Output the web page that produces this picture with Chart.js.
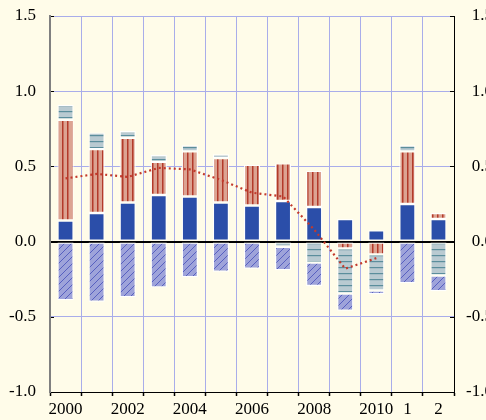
<!DOCTYPE html>
<html lang="en">
<head>
<meta charset="UTF-8">
<script src="https://cdn.jsdelivr.net/npm/chart.js@4.4.0/dist/chart.umd.min.js"></script>
<title>Chart</title>
<style>
  html, body { margin: 0; padding: 0; background: #fffce9; overflow: hidden; }
  #wrap { width: 486px; height: 420px; overflow: hidden; }
</style>
</head>
<body>
<div id="wrap"><canvas id="chart1" width="493" height="420"></canvas></div>
<script>
// data
var years = ['2000', '2001', '2002', '2003', '2004', '2005', '2006', '2007', '2008', '2009', '2010', '2011', '2012'];
var yearLabels = ['2000', '', '2002', '', '2004', '', '2006', '', '2008', '', '2010', '1', '2'];
var blueSeries = [0.14, 0.19, 0.26, 0.31, 0.30, 0.26, 0.24, 0.27, 0.23, 0.15, 0.075, 0.25, 0.15];
var redSeries = [0.67, 0.425, 0.43, 0.22, 0.30, 0.295, 0.27, 0.25, 0.24, -0.045, -0.085, 0.35, 0.04];
var greySeries = [0.10, 0.11, 0.045, 0.045, 0.04, 0.025, 0, -0.034, -0.14, -0.30, -0.24, 0.04, -0.225];
var hatchSeries = [-0.39, -0.40, -0.37, -0.305, -0.237, -0.20, -0.18, -0.156, -0.155, -0.115, -0.025, -0.277, -0.105];
var lineSeries = [0.42, 0.45, 0.43, 0.49, 0.48, 0.41, 0.325, 0.30, 0.08, -0.18, -0.11, null, null];
var yTicks = [-1.0, -0.5, 0.0, 0.5, 1.0, 1.5];

var gridColor = '#a9adea';
var serif = 'Liberation Serif';

function makePattern(bg, fg, size, draw) {
    var c = document.createElement('canvas');
    c.width = size; c.height = size;
    var g = c.getContext('2d');
    g.fillStyle = bg;
    g.fillRect(0, 0, size, size);
    g.strokeStyle = fg;
    g.fillStyle = fg;
    draw(g, size);
    return g.createPattern(c, 'repeat');
}

var ctx = document.getElementById('chart1').getContext('2d');

var redPattern = makePattern('#dca392', '#b33a2a', 5, function (g, s) {
    g.fillRect(2, 0, 1.5, s);
});
var greyPattern = makePattern('#b9cad1', '#5b8e9c', 6, function (g, s) {
    g.fillRect(0, 3, s, 1.2);
});
var hatchPattern = makePattern('#9ea3da', '#4f58bd', 7, function (g, s) {
    g.lineWidth = 0.9;
    g.beginPath();
    g.moveTo(0, s); g.lineTo(s, 0);
    g.moveTo(-1, 1); g.lineTo(1, -1);
    g.moveTo(s - 1, s + 1); g.lineTo(s + 1, s - 1);
    g.stroke();
});

function barSet(label, data, fill) {
    return {
        type: 'bar',
        label: label,
        data: data,
        backgroundColor: fill,
        borderColor: 'rgba(255,255,255,0.95)',
        borderWidth: 1.2,
        borderSkipped: false,
        barPercentage: 0.52,
        categoryPercentage: 1,
        stack: 'bars',
        order: 2
    };
}

var innerTicks = {
    id: 'innerTicks',
    afterDraw: function (chart) {
        var c = chart.ctx, a = chart.chartArea, y = chart.scales.y;
        c.save();
        c.strokeStyle = '#000';
        c.lineWidth = 1;
        yTicks.forEach(function (v) {
            var py = Math.round(y.getPixelForValue(v)) + 0.5;
            c.beginPath();
            c.moveTo(a.left + 1, py); c.lineTo(a.left + 4, py);
            c.moveTo(a.right - 4, py); c.lineTo(a.right, py);
            c.stroke();
        });
        c.restore();
    }
};

function tickText(v) { return Number(v).toFixed(1); }

// keep the tick label padding from pushing the plot area down
function fixY(width) {
    return function (s) {
        s.width = width;
        s.paddingTop = 0;
        s.paddingBottom = 0;
    };
}

var myChart = new Chart(ctx, {
    data: {
        labels: years,
        datasets: [
            barSet('blue', blueSeries, '#2b4ea9'),
            barSet('red', redSeries, redPattern),
            barSet('grey', greySeries, greyPattern),
            barSet('hatch', hatchSeries, hatchPattern),
            {
                type: 'line',
                label: 'line',
                data: lineSeries,
                borderColor: '#c23a2c',
                borderWidth: 2.2,
                borderDash: [2, 3],
                borderCapStyle: 'butt',
                pointRadius: 0,
                fill: false,
                tension: 0,
                stack: 'line',
                order: 0
            }
        ]
    },
    options: {
        responsive: false,
        animation: false,
        layout: { padding: { top: 16, left: 0, right: 0, bottom: 0 } },
        plugins: { legend: { display: false }, tooltip: { enabled: false } },
        scales: {
            x: {
                stacked: true,
                offset: true,
                grid: {
                    offset: true,
                    color: gridColor,
                    lineWidth: 1,
                    drawTicks: true,
                    tickLength: 4,
                    tickColor: '#000',
                    tickWidth: 1.5
                },
                border: { color: '#000', width: 1 },
                ticks: {
                    autoSkip: false,
                    maxRotation: 0,
                    padding: 3,
                    color: '#000',
                    font: { family: serif, size: 17 },
                    callback: function (v, i) { return yearLabels[i]; }
                },
                afterFit: function (s) { s.height = 28; }
            },
            y: {
                stacked: true,
                position: 'left',
                min: -1, max: 1.5,
                afterBuildTicks: function (s) { s.ticks = yTicks.map(function (v) { return { value: v }; }); },
                grid: {
                    drawTicks: false,
                    color: function (c) { return c.tick && c.tick.value === 0 ? '#000' : gridColor; },
                    lineWidth: function (c) { return c.tick && c.tick.value === 0 ? 2 : 1; }
                },
                border: { color: '#808080', width: 2 },
                ticks: {
                    padding: 14,
                    color: '#000',
                    font: { family: serif, size: 17 },
                    callback: tickText
                },
                afterFit: fixY(50)
            },
            y2: {
                position: 'right',
                min: -1, max: 1.5,
                afterBuildTicks: function (s) { s.ticks = yTicks.map(function (v) { return { value: v }; }); },
                grid: { drawOnChartArea: false, drawTicks: false },
                border: { color: '#000', width: 1 },
                ticks: {
                    padding: 14,
                    crossAlign: 'far',
                    color: '#000',
                    font: { family: serif, size: 17 },
                    callback: tickText
                },
                afterFit: fixY(39)
            }
        }
    },
    plugins: [innerTicks]
});
</script>
</body>
</html>
